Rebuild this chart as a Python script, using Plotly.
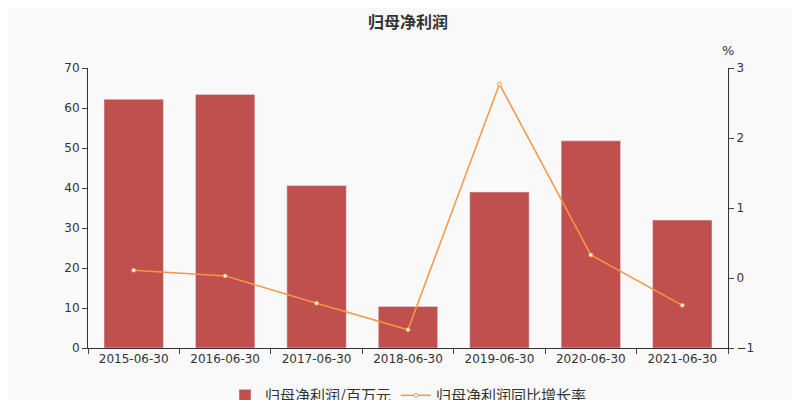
import plotly.graph_objects as go

categories = ["2015-06-30","2016-06-30","2017-06-30","2018-06-30","2019-06-30","2020-06-30","2021-06-30"]
profit = [62.2, 63.4, 40.6, 10.4, 39.0, 51.8, 32.0]
growth = [0.11, 0.03, -0.36, -0.74, 2.77, 0.33, -0.39]

fig = go.Figure()
fig.add_bar(x=categories, y=profit, name="归母净利润/百万元", marker_color="#c0504d", width=0.65)
fig.add_scatter(x=categories, y=growth, name="归母净利润同比增长率", yaxis="y2", mode="lines+markers",
                line=dict(color="#f79646", width=1.5),
                marker=dict(size=4, color="white", line=dict(color="#f79646", width=1)))
fig.update_layout(
    width=800, height=400, paper_bgcolor="#f9f9f9", plot_bgcolor="#f9f9f9",
    font=dict(family="DejaVu Sans, Noto Sans CJK SC", size=12, color="#333"),
    title=dict(text="<b>归母净利润</b>", x=0.5, y=0.965, xanchor="center", yanchor="middle",
               font=dict(size=16, family="Noto Sans CJK SC")),
    margin=dict(l=80, r=80, t=60, b=60, autoexpand=False),
    xaxis=dict(type="category", showline=True, linecolor="#333", ticks="outside", tickson="boundaries",
               showgrid=False, automargin=False),
    yaxis=dict(range=[0, 70], dtick=10, showline=True, linecolor="#333", ticks="outside", showgrid=False,
               zeroline=False, automargin=False),
    yaxis2=dict(range=[-1, 3], dtick=1, overlaying="y", side="right", showline=True, linecolor="#333",
                ticks="outside", showgrid=False, zeroline=False, automargin=False),
    legend=dict(orientation="h", x=0.5, xanchor="center", y=-0.17, yanchor="middle",
                font=dict(size=15, family="Noto Sans CJK SC")),
    annotations=[dict(text="%", x=1, xref="paper", y=1.03, yref="paper", xanchor="center", yanchor="bottom",
                      showarrow=False, font=dict(size=13))],
    bargap=0.35,
)
fig.write_html("out.html")
